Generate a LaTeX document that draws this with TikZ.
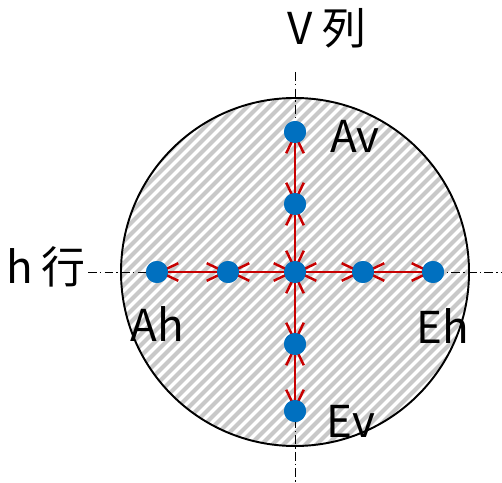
\documentclass[tikz,border=0pt]{standalone}
\usepackage{fontspec}
\setmainfont{Noto Sans CJK JP}
\usetikzlibrary{arrows.meta}
\definecolor{dotblue}{HTML}{0070C0}
\definecolor{linered}{HTML}{C80000}
\definecolor{hatch}{HTML}{C8C8C8}
\tikzset{
  dotnode/.style={circle,fill=dotblue,draw=none,inner sep=0pt,minimum size=0.44cm},
  redline/.style={draw=linered,line width=1.4pt,{Straight Barb[length=10.5pt,width=10pt]}-{Straight Barb[length=10.5pt,width=10pt]}},
  axisline/.style={draw=black,line width=0.5pt,dash pattern=on 5pt off 1.8pt on 0.8pt off 1.8pt},
  lbl/.style={font=\fontsize{25}{30}\selectfont,inner sep=0pt}
}
\begin{document}
\begin{tikzpicture}[x=0.02cm,y=-0.02cm]
\useasboundingbox (0,0) rectangle (502,482);
% hatched disc
\begin{scope}
  \clip (295,272) circle (174);
  \fill[white] (295,272) circle (174);
  \foreach \i in {-140,-129,...,380} {
    \draw[hatch,line width=2.3pt] (\i,450) -- ++(360,-360);
  }
\end{scope}
\draw[line width=1.1pt] (295,272) circle (174);
% axes
\coordinate (vtop) at (295,72);
\coordinate (vbot) at (295,482);
\coordinate (hleft) at (88,272);
\coordinate (hright) at (502,272);
\draw[axisline] (vtop) -- (vbot);
\draw[axisline] (hleft) -- (hright);
% dots
\node[dotnode] (Ah) at (157,272) {};
\node[dotnode] (h2) at (228,272) {};
\node[dotnode] (C) at (295,272) {};
\node[dotnode] (h4) at (363,272) {};
\node[dotnode] (Eh) at (433,272) {};
\node[dotnode] (Av) at (295,132) {};
\node[dotnode] (v2) at (295,204) {};
\node[dotnode] (v4) at (295,344) {};
\node[dotnode] (Ev) at (295,411) {};
% red connectors
\draw[redline] (Ah.center) -- (h2.center);
\draw[redline] (h2.center) -- (C.center);
\draw[redline] (C.center) -- (h4.center);
\draw[redline] (h4.center) -- (Eh.center);
\draw[redline] (Av.center) -- (v2.center);
\draw[redline] (v2.center) -- (C.center);
\draw[redline] (C.center) -- (v4.center);
\draw[redline] (v4.center) -- (Ev.center);
% redraw dots on top
\foreach \n in {Ah,h2,C,h4,Eh,Av,v2,v4,Ev} {
  \fill[dotblue] (\n.center) circle (11);
}
% labels
\node[lbl] (lV) at (327,28) {V\hspace{6pt}列};
\node[lbl] (lh) at (46,267) {h\hspace{5pt}行};
\node[lbl] (lAv) at (355,136) {Av};
\node[lbl] (lAh) at (157,324) {Ah};
\node[lbl] (lEh) at (443,326) {Eh};
\node[lbl] (lEv) at (351,421) {Ev};
\end{tikzpicture}
\end{document}
